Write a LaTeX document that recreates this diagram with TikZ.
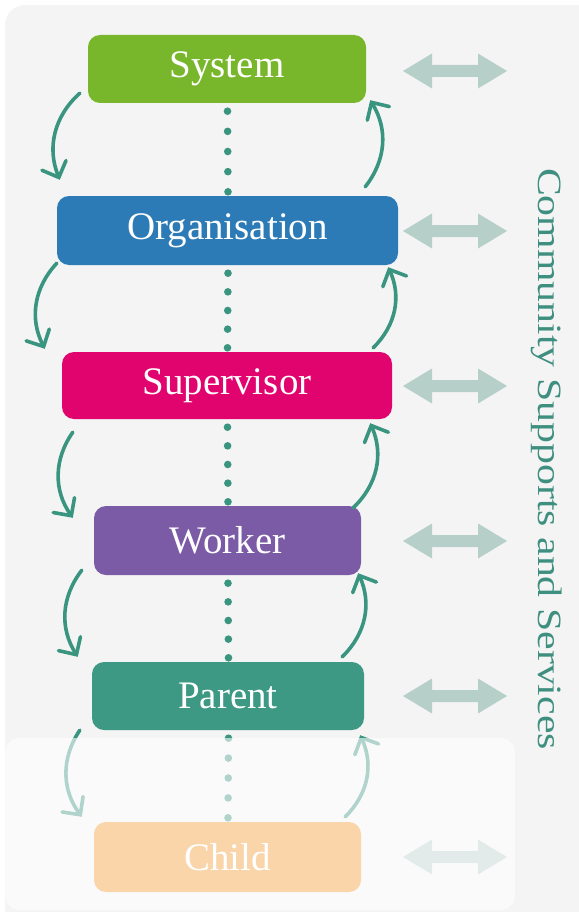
\documentclass[tikz,border=0pt]{standalone}
\usepackage{fontspec}
\setmainfont{Liberation Serif}
\newfontfamily\stretchfont[FakeStretch=1.23]{Liberation Serif}
\usetikzlibrary{calc,arrows.meta}
\definecolor{bgc}{HTML}{F4F4F4}
\definecolor{sysc}{HTML}{78B72B}
\definecolor{orgc}{HTML}{2C7BB6}
\definecolor{supc}{HTML}{E2046E}
\definecolor{worc}{HTML}{7B5BA6}
\definecolor{parc}{HTML}{3E9984}
\definecolor{chic}{HTML}{F09628}
\definecolor{arrc}{HTML}{3A9580}
\definecolor{labc}{HTML}{3F8F80}
\definecolor{dblc}{HTML}{B7CFC9}
\begin{document}
\begin{tikzpicture}[x=1pt,y=-1pt,
  box/.style={rounded corners=12pt, inner sep=0pt, text=white,
    font=\fontsize{39}{40}\selectfont},
  cyc/.style={draw=arrc, line width=3.6pt, line cap=round,
    -{Straight Barb[length=13pt,width=26pt,line cap=round]}},
  dotline/.style={fill=arrc},
  dbl/.style={fill=dblc}
]
\useasboundingbox (0,0) rectangle (578,912);
% background panel
\fill[bgc, rounded corners=20pt] (5,5) rectangle (600,930);

% boxes
\node[box, fill=sysc, minimum width=278pt, minimum height=68pt] (sys) at (227,69) {System};
\node[box, fill=orgc, minimum width=341pt, minimum height=69pt] (org) at (227.5,230.5) {Organisation};
\node[box, fill=supc, minimum width=330pt, minimum height=67pt] (sup) at (227,385.5) {Supervisor};
\node[box, fill=worc, minimum width=267pt, minimum height=69pt] (wor) at (227.5,540.5) {Worker};
\node[box, fill=parc, minimum width=272pt, minimum height=68pt] (par) at (228,696) {Parent};
\node[box, fill=chic, minimum width=267pt, minimum height=70pt] (chi) at (227.5,857) {Child};

% dotted links
\foreach \u/\l in {sys/org, org/sup, sup/wor, wor/par, par/chi}{
  \coordinate (d1) at ($(\u.south)+(0.5,8)$);
  \coordinate (d2) at ($(\l.north)+(0.5,-4)$);
  \foreach \i in {0,...,4}
    \fill[dotline] ($(d1)!\i/4!(d2)$) circle (3.8pt);
}

% downward curved arrows (left)
\draw[cyc] ($(sys.south west)+(-8,-10)$) to[bend right=35] ($(org.north west)+(3,-16)$);
\draw[cyc] ($(org.south west)+(0,-2)$) to[bend right=35] ($(sup.north west)+(-17,-3)$);
\draw[cyc] ($(sup.south west)+(11,13)$) to[bend right=35] ($(wor.north west)+(-21,12)$);
\draw[cyc] ($(wor.south west)+(-12,-5)$) to[bend right=35] ($(par.north west)+(-14,-5)$);
\draw[cyc] ($(par.south west)+(-12,0)$) to[bend right=35] ($(chi.north west)+(-12,-5)$);

% upward curved arrows (right)
\draw[cyc] ($(org.north east)+(-33,-9)$) to[bend right=35] ($(sys.south east)+(4,-3)$);
\draw[cyc] ($(sup.north east)+(-19,-4)$) to[bend right=35] ($(org.south east)+(-10,2)$);
\draw[cyc] ($(wor.north east)+(-8,2)$) to[bend right=35] ($(sup.south east)+(-22,4)$);
\draw[cyc] ($(par.north east)+(-22,-5)$) to[bend right=35] ($(wor.south east)+(-3,-2)$);
\draw[cyc] ($(chi.north east)+(-16,-5)$) to[bend right=35] ($(par.south east)+(-4,5)$);

% double arrows to community supports
\foreach \cy in {71,231,386,541,696,857}{
  \fill[dbl] (403,\cy) -- (432,\cy-17.5) -- (432,\cy-6) -- (478,\cy-6) -- (478,\cy-17.5)
    -- (507,\cy) -- (478,\cy+17.5) -- (478,\cy+6) -- (432,\cy+6) -- (432,\cy+17.5) -- cycle;
}

% side label
\node[rotate=-90, anchor=base, text=labc, inner sep=0pt,
  font=\stretchfont\fontsize{34}{36}\selectfont] (lab) at (538,459)
  {Community Supports and Services};

% faded lower panel
\fill[white, opacity=0.6, rounded corners=15pt] (5,738) rectangle (515,910);
\end{tikzpicture}
\end{document}
